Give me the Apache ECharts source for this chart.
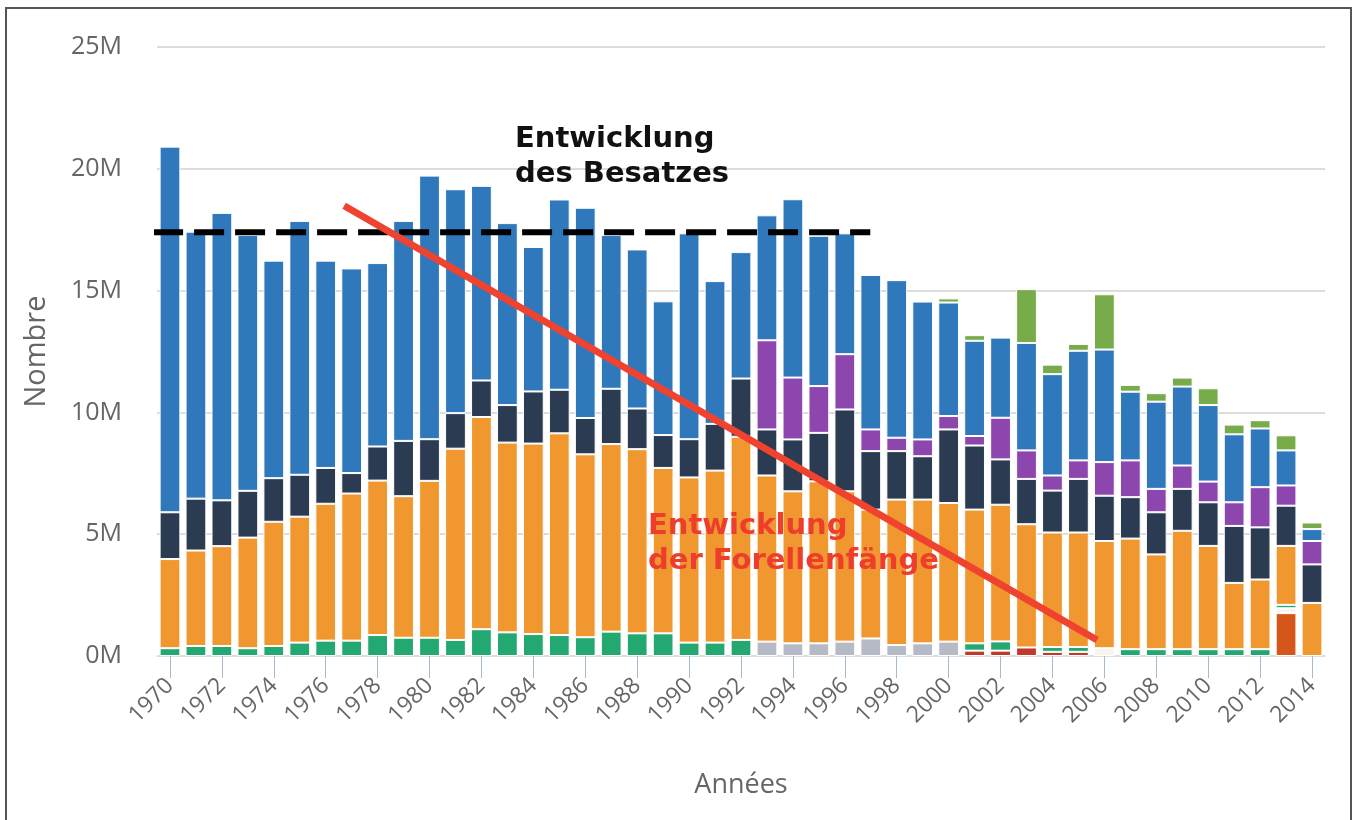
<!DOCTYPE html>
<html><head><meta charset="utf-8">
<script src="https://cdn.jsdelivr.net/npm/echarts@6/dist/echarts.min.js"></script>
<style>html,body{margin:0;padding:0;background:#fff}#c{width:1357px;height:820px}</style>
</head><body><div id="c"></div>
<script>
const years = ['1970','1971','1972','1973','1974','1975','1976','1977','1978','1979','1980','1981','1982','1983','1984','1985','1986','1987','1988','1989','1990','1991','1992','1993','1994','1995','1996','1997','1998','1999','2000','2001','2002','2003','2004','2005','2006','2007','2008','2009','2010','2011','2012','2013','2014'];
const yTicks = [0,5,10,15,20,25];
// values in millions
const rust   = [0,0,0,0,0,0,0,0,0,0,0,0,0,0,0,0,0,0,0,0,0,0,0, 0,0,0,0,0,0,0,0, 0,0,0,0,0,0, 0,0,0,0,0,0,1.76,0];
const red    = [0,0,0,0,0,0,0,0,0,0,0,0,0,0,0,0,0,0,0,0,0,0,0, 0,0,0,0,0,0,0,0, 0.22,0.22,0.35,0.17,0.17,0, 0,0,0,0,0,0,0,0];
const pale   = [0,0,0,0,0,0,0,0,0,0,0,0,0,0,0,0,0,0,0,0,0,0,0, 0,0,0,0,0,0,0,0, 0,0,0,0,0,0.32, 0,0,0,0,0,0,0.2,0];
const green  = [0.32,0.41,0.41,0.32,0.41,0.55,0.63,0.63,0.86,0.75,0.75,0.66,1.1,0.97,0.9,0.86,0.77,1.0,0.93,0.93,0.55,0.55,0.66, 0,0,0,0,0,0,0,0, 0.3,0.38,0,0.2,0.2,0, 0.28,0.28,0.28,0.28,0.28,0.28,0.14,0];
const gray   = [0,0,0,0,0,0,0,0,0,0,0,0,0,0,0,0,0,0,0,0,0,0,0, 0.59,0.52,0.52,0.59,0.72,0.45,0.52,0.59, 0,0,0,0,0,0, 0,0,0,0,0,0,0,0];
const orange = [3.66,3.92,4.10,4.54,5.10,5.17,5.62,6.04,6.34,5.81,6.44,7.85,8.71,7.79,7.82,8.28,7.51,7.70,7.56,6.79,6.78,7.06,8.34, 6.82,6.24,6.65,6.17,5.29,5.97,5.90,5.69, 5.49,5.61,5.06,4.70,4.70,4.40, 4.54,3.89,4.86,4.24,2.72,2.86,2.42,2.18];
const navy   = [1.92,2.13,1.88,1.92,1.79,1.72,1.47,0.84,1.40,2.27,1.71,1.46,1.50,1.54,2.14,1.79,1.49,2.27,1.67,1.35,1.57,1.92,2.39, 1.89,2.13,1.99,3.36,2.40,1.99,1.78,3.02, 2.63,1.86,1.86,1.72,2.20,1.86, 1.70,1.73,1.72,1.79,2.34,2.14,1.65,1.58];
const purple = [0,0,0,0,0,0,0,0,0,0,0,0,0,0,0,0,0,0,0,0,0,0,0, 3.66,2.54,1.92,2.27,0.89,0.55,0.69,0.55, 0.39,1.71,1.17,0.62,0.76,1.38, 1.51,0.96,0.96,0.85,0.97,1.65,0.83,0.96];
const blue   = [15.01,10.96,11.80,10.50,8.93,10.42,8.51,8.40,7.53,9.03,10.82,9.19,7.99,7.47,5.93,7.81,8.63,6.31,6.53,5.49,8.45,5.86,5.19, 5.13,7.32,6.17,4.96,6.34,6.47,5.66,4.66, 3.91,3.29,4.41,4.16,4.50,4.62, 2.82,3.58,3.24,3.14,2.79,2.41,1.44,0.49];
const topGreen=[0,0,0,0,0,0,0,0,0,0,0,0,0,0,0,0,0,0,0,0,0,0,0, 0,0,0,0,0,0,0,0.17, 0.23,0,2.21,0.39,0.28,2.27, 0.28,0.35,0.37,0.69,0.40,0.34,0.62,0.27];
// annotation lines (x in category index units, y in millions)
const besatzLine = [[-0.65, 17.4], [26.98, 17.4]];
const faengeLine = [[6.71, 18.48], [35.72, 0.66]];

const stackDefs = [
  ['rust', rust, '#d4561a'],
  ['red', red, '#c0392b'],
  ['pale', pale, '#f6f6ee'],
  ['green', green, '#22a870'],
  ['gray', gray, '#b5bac6'],
  ['orange', orange, '#f0982f'],
  ['navy', navy, '#2b3b52'],
  ['purple', purple, '#8c46ae'],
  ['blue', blue, '#2f78bb'],
  ['topGreen', topGreen, '#78ab4a']
];
const series = stackDefs.map(([n, d, c]) => ({
  name: n, type: 'bar', stack: 'all', barWidth: '80%',
  data: d.map(v => v === 0 ? '-' : v),
  itemStyle: { color: c, borderColor: '#fff', borderWidth: 1 },
  emphasis: { disabled: true }, animation: false
}));
series.push({
  type: 'line', xAxisIndex: 1, data: besatzLine, symbol: 'none', z: 10,
  lineStyle: { color: '#000', width: 6, type: [30, 11], cap: 'butt' }, animation: false
});
series.push({
  type: 'line', xAxisIndex: 1, data: faengeLine, symbol: 'none', z: 10,
  lineStyle: { color: '#f0432f', width: 7 }, animation: false
});

const chart = echarts.init(document.getElementById('c'), null, { renderer: 'canvas' });
chart.setOption({
  animation: false,
  grid: { left: 157, right: 32, top: 47, bottom: 164 },
  xAxis: [{
    type: 'category', data: years,
    axisLine: { lineStyle: { color: '#d8dde8', width: 1 } },
    axisTick: { show: true, interval: 1, alignWithLabel: true, length: 22, lineStyle: { color: '#a9b8cc', width: 1 } },
    axisLabel: { interval: 1, rotate: 45, color: '#666', fontSize: 23, fontFamily: 'Open Sans', margin: 26 },
    name: 'Années', nameLocation: 'middle', nameGap: 116,
    nameTextStyle: { color: '#666', fontSize: 27, fontFamily: 'Open Sans' }
  }, {
    type: 'value', min: -0.5, max: 44.5, show: false
  }],
  yAxis: {
    type: 'value', min: 0, max: 25, interval: 5,
    axisLabel: { formatter: v => v + 'M', color: '#666', fontSize: 25, fontFamily: 'Open Sans', margin: 35 },
    splitLine: { lineStyle: { color: '#dcdcdc', width: 2 } },
    axisLine: { show: false }, axisTick: { show: false },
    name: 'Nombre', nameLocation: 'middle', nameGap: 106,
    nameTextStyle: { color: '#666', fontSize: 29, fontFamily: 'Open Sans' }
  },
  series: series,
  graphic: [
    { type: 'rect', shape: { x: 6, y: 8, width: 1345, height: 840 }, style: { fill: 'none', stroke: '#555', lineWidth: 2 }, silent: true, z: 100 },
    { type: 'text', left: 515, top: 122, z: 100, style: { text: 'Entwicklung\ndes Besatzes', font: 'bold 29px "DejaVu Sans"', fill: '#111', lineHeight: 35 } },
    { type: 'text', left: 648, top: 509, z: 100, style: { text: 'Entwicklung\nder Forellenfänge', font: 'bold 29px "DejaVu Sans"', fill: '#ee3d2c', lineHeight: 35 } }
  ]
});
</script></body></html>
